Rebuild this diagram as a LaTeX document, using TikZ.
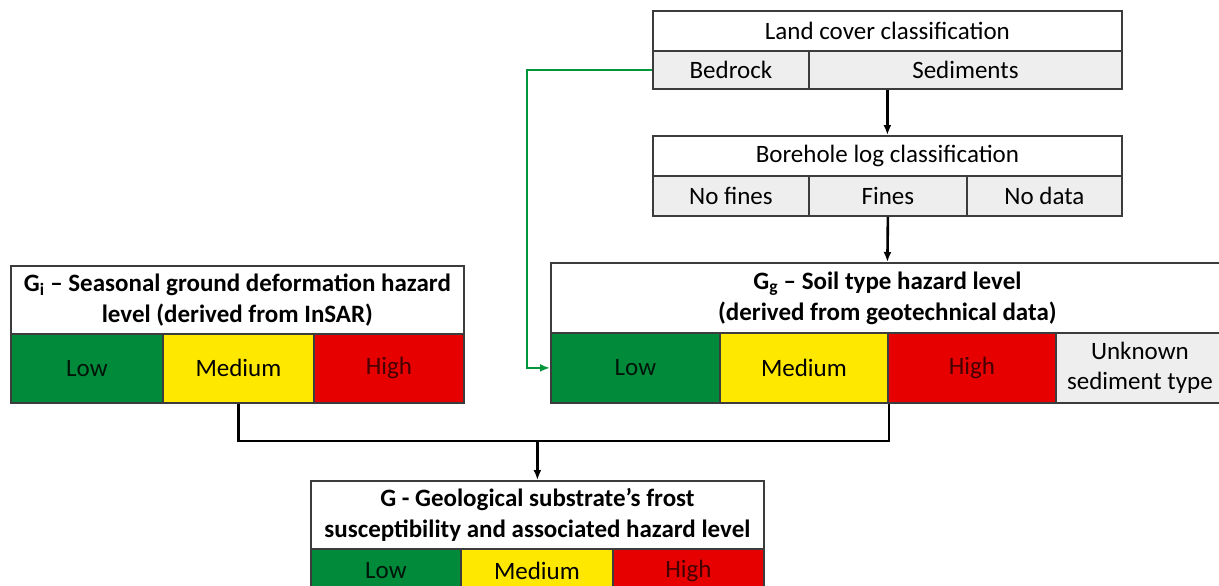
\documentclass[tikz,border=0pt]{standalone}
\usepackage{fontspec}
\setmainfont{Carlito}
\usetikzlibrary{arrows.meta,positioning,calc}
\definecolor{hzgreen}{RGB}{0,138,58}
\definecolor{hzyellow}{RGB}{255,232,0}
\definecolor{hzred}{RGB}{230,0,0}
\definecolor{cellgray}{RGB}{238,238,238}
\definecolor{bordergray}{RGB}{60,60,60}
\definecolor{linkgreen}{RGB}{0,150,60}
\tikzset{
  mycell/.style = {rectangle, draw=bordergray, line width=1.8pt, anchor=north west, inner sep=0pt, align=center, font=\fontsize{25}{30}\selectfont},
  myhead/.style = {mycell, fill=white},
  mytitle/.style = {mycell, fill=white, font=\fontsize{25}{31}\selectfont\bfseries},
  myclass/.style = {mycell, fill=cellgray},
  mylow/.style = {mycell, fill=hzgreen, text=black!85!hzgreen},
  mymed/.style = {mycell, fill=hzyellow, text=black},
  myhigh/.style = {mycell, fill=hzred, text=black!70!hzred},
  myline/.style = {line width=2.6pt},
  myarrow/.style = {-{Latex[length=10pt,width=8pt]}, line width=2.6pt},
  mygreen/.style = {-{Latex[length=10pt,width=8pt]}, line width=2.6pt, draw=linkgreen},
}
\begin{document}
\begin{tikzpicture}[x=1pt,y=-1pt]
\useasboundingbox (0,0) rectangle (1219,586);

% land cover
\node (lc) [myhead, minimum width=469pt, minimum height=40pt] at (652,10) {Land cover classification};
\node (bed) [myclass, minimum width=156pt, minimum height=38pt] at (652,50) {Bedrock};
\node (sed) [myclass, minimum width=313pt, minimum height=38pt] at (808,50) {Sediments};

% borehole log
\node (bh) [myhead, minimum width=469pt, minimum height=40pt] at (652,135) {Borehole log classification};
\node (nof) [myclass, minimum width=156pt, minimum height=40pt] at (652,175) {No fines};
\node (fin) [myclass, minimum width=158pt, minimum height=40pt] at (808,175) {Fines};
\node (nod) [myclass, minimum width=155pt, minimum height=40pt] at (966,175) {No data};

% soil type hazard
\node (gg) [mytitle, minimum width=673pt, minimum height=70pt] at (550,262) {G\textsubscript{g} -- Soil type hazard level\\(derived from geotechnical data)};
\node (gglow) [mylow, minimum width=169pt, minimum height=70pt] at (550,332) {Low};
\node (ggmed) [mymed, minimum width=168pt, minimum height=70pt] at (719,332) {Medium};
\node (gghigh) [myhigh, minimum width=168pt, minimum height=70pt] at (887,332) {High};
\node (ggunk) [myclass, minimum width=168pt, minimum height=70pt] at (1055,332) {Unknown\\sediment type};

% ground deformation hazard
\node (gi) [mytitle, minimum width=453pt, minimum height=68pt] at (10,265) {G\textsubscript{i} -- Seasonal ground deformation hazard\\level (derived from InSAR)};
\node (gilow) [mylow, minimum width=152pt, minimum height=69pt] at (10,333) {Low};
\node (gimed) [mymed, minimum width=151pt, minimum height=69pt] at (162,333) {Medium};
\node (gihigh) [myhigh, minimum width=150pt, minimum height=69pt] at (313,333) {High};

% geological substrate
\node (g) [mytitle, minimum width=453pt, minimum height=68pt] at (310,480) {G - Geological substrate’s frost\\susceptibility and associated hazard level};
\node (glow) [mylow, minimum width=150pt, minimum height=44pt] at (310,548) {Low};
\node (gmed) [mymed, minimum width=152pt, minimum height=44pt] at (460,548) {Medium};
\node (ghigh) [myhigh, minimum width=151pt, minimum height=44pt] at (612,548) {High};

% connectors
\draw[myarrow] (bh.north |- sed.south) -- (bh.north);
\draw[myarrow] (fin.south) -- (gg.north);
\draw[mygreen] (bed.west) -- ++(-125,0) |- (gglow.west);
\coordinate (mrg) at (g.north |- 0,441);
\draw[myline] (gimed.south) |- (mrg) -| (ggmed.south east);
\draw[myarrow] (mrg) -- (g.north);
\end{tikzpicture}
\end{document}
